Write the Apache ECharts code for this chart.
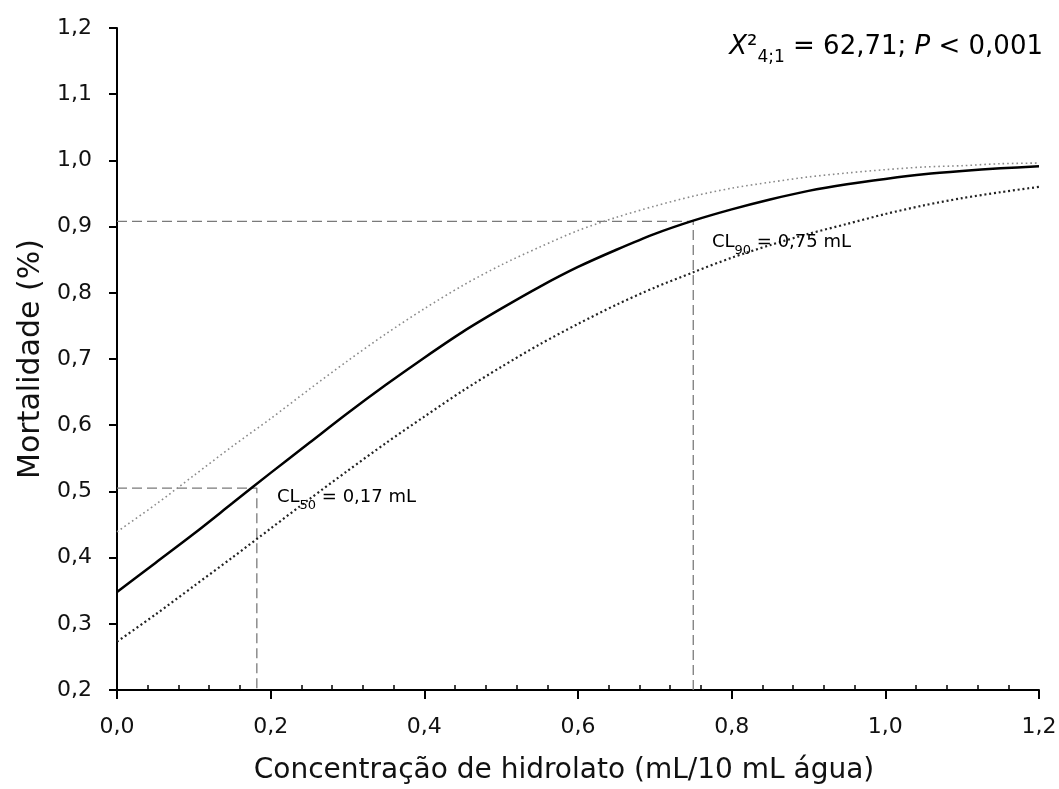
<!DOCTYPE html>
<html>
<head>
<meta charset="utf-8">
<script src="https://cdn.jsdelivr.net/npm/echarts@6/dist/echarts.min.js"></script>
<style>html,body{margin:0;padding:0;background:#fff}#c{width:1059px;height:789px}</style>
</head>
<body>
<div id="c"></div>
<script>
// concentration (mL/10 mL water)
const xValues = [0,0.05,0.1,0.15,0.2,0.25,0.3,0.35,0.4,0.45,0.5,0.55,0.6,0.65,0.7,0.75,0.8,0.85,0.9,0.95,1.0,1.05,1.1,1.15,1.2];
// fitted mortality (solid)
const mortality = [0.348,0.392,0.436,0.482,0.528,0.573,0.618,0.661,0.702,0.741,0.776,0.809,0.839,0.865,0.889,0.909,0.926,0.941,0.954,0.964,0.972,0.979,0.984,0.988,0.991];
// upper confidence band (light dotted)
const upperBand = [0.439,0.480,0.524,0.568,0.610,0.654,0.697,0.738,0.776,0.811,0.842,0.869,0.894,0.914,0.931,0.946,0.958,0.967,0.975,0.981,0.986,0.990,0.992,0.995,0.996];
// lower confidence band (dark dotted)
const lowerBand = [0.273,0.314,0.357,0.400,0.444,0.488,0.531,0.573,0.613,0.652,0.688,0.722,0.753,0.782,0.808,0.831,0.853,0.872,0.889,0.904,0.919,0.932,0.943,0.952,0.960];
// reference lines for CL50 and CL90
const cl50Line = [[0,0.505],[0.182,0.505],[0.182,0.2]];
const cl90Line = [[0,0.908],[0.75,0.908],[0.75,0.2]];
const xTicks = [0,0.2,0.4,0.6,0.8,1.0,1.2];
const yTicks = [0.2,0.3,0.4,0.5,0.6,0.7,0.8,0.9,1.0,1.1,1.2];
const cl50Label = ['CL', '50', ' = 0,17 mL'];
const cl90Label = ['CL', '90', ' = 0,75 mL'];

const FONT = 'DejaVu Sans';
const pair = (xs, ys) => xs.map((x, i) => [x, ys[i]]);
const fmt = v => v.toFixed(1).replace('.', ',');

const chart = echarts.init(document.getElementById('c'), null, {renderer: 'canvas'});
chart.setOption({
  animation: false,
  backgroundColor: '#fff',
  textStyle: {fontFamily: FONT},
  grid: {left: 117, right: 20, top: 28, bottom: 99, containLabel: false, outerBoundsMode: 'none'},
  xAxis: [{
    type: 'value', min: xTicks[0], max: xTicks[xTicks.length - 1], interval: 0.2,
    name: 'Concentração de hidrolato (mL/10 mL água)',
    nameLocation: 'middle', nameGap: 67,
    nameTextStyle: {fontFamily: FONT, fontSize: 28, color: '#111', padding: [0, 28, 0, 0]},
    axisLine: {show: true, onZero: false, lineStyle: {color: '#000', width: 2}},
    axisTick: {show: true, inside: false, length: 9, lineStyle: {color: '#000', width: 2}},
    axisLabel: {formatter: fmt, fontFamily: FONT, fontSize: 22, color: '#111', margin: 26},
    splitLine: {show: false}
  }, {
    type: 'value', min: xTicks[0], max: xTicks[xTicks.length - 1], interval: 0.2, position: 'bottom',
    axisLine: {show: false},
    axisTick: {show: false, inside: true},
    minorTick: {show: true, splitNumber: 5, length: 5, lineStyle: {color: '#000', width: 1.5}},
    axisLabel: {show: false},
    splitLine: {show: false}, minorSplitLine: {show: false}
  }],
  yAxis: {
    type: 'value', min: yTicks[0], max: yTicks[yTicks.length - 1], interval: 0.1,
    name: 'Mortalidade (%)',
    nameLocation: 'middle', nameGap: 71, nameRotate: 90,
    nameTextStyle: {fontFamily: FONT, fontSize: 30, color: '#111'},
    axisLine: {show: true, onZero: false, lineStyle: {color: '#000', width: 2}},
    axisTick: {show: true, inside: false, length: 8, lineStyle: {color: '#000', width: 2}},
    axisLabel: {formatter: fmt, fontFamily: FONT, fontSize: 22, color: '#111', margin: 25},
    splitLine: {show: false}
  },
  series: [
    {name: 'cl90', type: 'line', xAxisIndex: 0, data: cl90Line, symbol: 'none', silent: true,
     lineStyle: {color: '#7a7a7a', width: 1.3, type: [10, 5]}, z: 1},
    {name: 'cl50', type: 'line', xAxisIndex: 0, data: cl50Line, symbol: 'none', silent: true,
     lineStyle: {color: '#7a7a7a', width: 1.3, type: [10, 5]}, z: 1},
    {name: 'upper', type: 'line', xAxisIndex: 0, data: pair(xValues, upperBand), symbol: 'none', smooth: 0.3,
     lineStyle: {color: '#8a8a8a', width: 1.6, type: [1.6, 3]}, z: 2},
    {name: 'lower', type: 'line', xAxisIndex: 0, data: pair(xValues, lowerBand), symbol: 'none', smooth: 0.3,
     lineStyle: {color: '#222', width: 2.2, type: [2, 2.8]}, z: 2},
    {name: 'mortality', type: 'line', xAxisIndex: 0, data: pair(xValues, mortality), symbol: 'none', smooth: 0.3,
     lineStyle: {color: '#000', width: 2.5}, z: 3}
  ],
  graphic: [
    {type: 'text', right: 16, top: 34, z: 10,
     style: {
       text: '{i|X}{n|²}{s|4;1}{n| = 62,71; }{i|P}{n| < 0,001}',
       rich: {
         i: {fontFamily: FONT, fontSize: 26, fontStyle: 'italic', color: '#111', lineHeight: 38},
         n: {fontFamily: FONT, fontSize: 26, color: '#111', lineHeight: 38},
         s: {fontFamily: FONT, fontSize: 17, color: '#111', lineHeight: 17, verticalAlign: 'bottom'}
       }
     }},
    {type: 'text', left: 277, top: 488, z: 10,
     style: {
       text: '{n|' + cl50Label[0] + '}{s|' + cl50Label[1] + '}{n|' + cl50Label[2] + '}',
       rich: {
         n: {fontFamily: FONT, fontSize: 18, color: '#111', lineHeight: 30},
         s: {fontFamily: FONT, fontSize: 13, color: '#111', lineHeight: 13, verticalAlign: 'bottom'}
       }
     }},
    {type: 'text', left: 712, top: 233, z: 10,
     style: {
       text: '{n|' + cl90Label[0] + '}{s|' + cl90Label[1] + '}{n|' + cl90Label[2] + '}',
       rich: {
         n: {fontFamily: FONT, fontSize: 18, color: '#111', lineHeight: 30},
         s: {fontFamily: FONT, fontSize: 13, color: '#111', lineHeight: 13, verticalAlign: 'bottom'}
       }
     }}
  ]
});
</script>
</body>
</html>
